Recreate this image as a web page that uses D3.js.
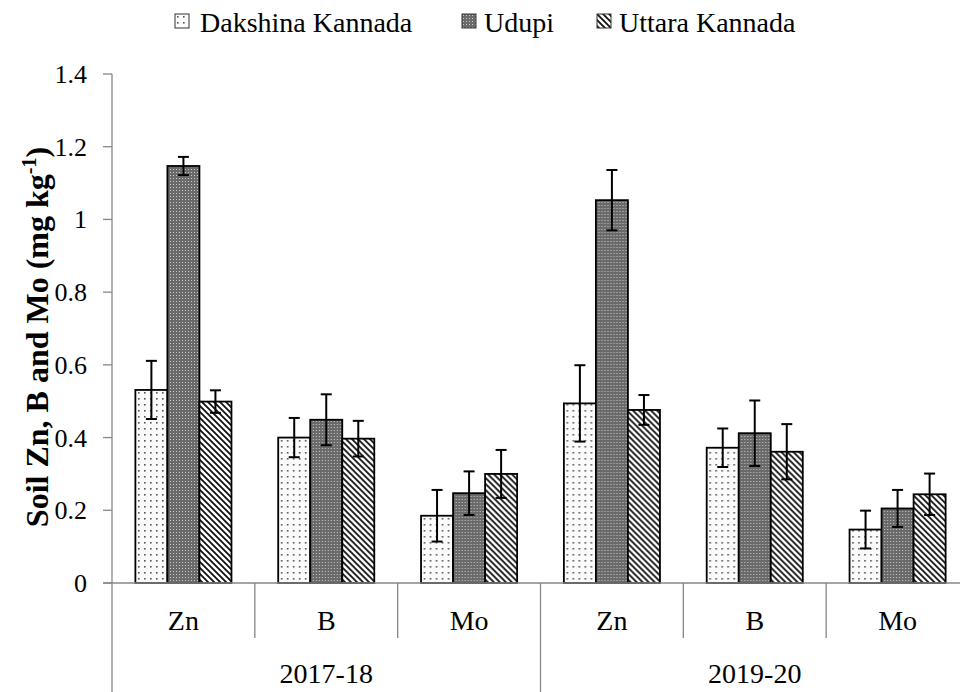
<!DOCTYPE html>
<html>
<head>
<meta charset="utf-8">
<script src="https://cdnjs.cloudflare.com/ajax/libs/d3/7.8.5/d3.min.js"></script>
<style>
  body { margin: 0; background: #fff; }
  svg { display: block; }
</style>
</head>
<body>
<svg id="chart" width="960" height="692"></svg>
<script>
// values
const years = ['2017-18', '2019-20']
const nutrients = ['Zn', 'B', 'Mo']
const districts = ['Dakshina Kannada', 'Udupi', 'Uttara Kannada']

const dakshina = [0.531, 0.400, 0.185, 0.494, 0.372, 0.147]
const dakshinaErr = [0.080, 0.054, 0.071, 0.105, 0.053, 0.052]
const udupi = [1.147, 0.449, 0.247, 1.053, 0.412, 0.205]
const udupiErr = [0.025, 0.070, 0.060, 0.083, 0.090, 0.051]
const uttara = [0.499, 0.397, 0.300, 0.476, 0.361, 0.244]
const uttaraErr = [0.031, 0.049, 0.066, 0.041, 0.076, 0.057]

const yTicks = [0, 0.2, 0.4, 0.6, 0.8, 1, 1.2, 1.4]

const series = [
    { name: districts[0], values: dakshina, errs: dakshinaErr, fill: 'url(#pat-dots)' },
    { name: districts[1], values: udupi, errs: udupiErr, fill: 'url(#pat-check)' },
    { name: districts[2], values: uttara, errs: uttaraErr, fill: 'url(#pat-diag)' }
]

// one slot per year x nutrient
let slots = []
years.forEach(yr => nutrients.forEach(n => slots.push(yr + '|' + n)))

const svg = d3.select('#chart')
const axisColor = '#878787'
const serif = '"Liberation Serif", "Times New Roman", "DejaVu Serif", serif'

const plotLeft = 112, plotRight = 969, plotTop = 74, plotBottom = 583

const x0 = d3.scaleBand().domain(slots).range([plotLeft, plotRight]).padding(0)
const x1 = d3.scaleBand().domain(districts).range([0, x0.bandwidth()])
    .paddingInner(0).paddingOuter(0.73)
const y = d3.scaleLinear().domain([0, 1.4]).range([plotBottom, plotTop])

// patterns
const defs = svg.append('defs')

let dots = defs.append('pattern')
    .attr('id', 'pat-dots')
    .attr('patternUnits', 'userSpaceOnUse')
    .attr('width', 6).attr('height', 6)
dots.append('rect').attr('width', 6).attr('height', 6).attr('fill', '#fbfbfb')
dots.append('rect').attr('x', 2).attr('y', 2).attr('width', 1.6).attr('height', 1.6).attr('fill', '#555')

let check = defs.append('pattern')
    .attr('id', 'pat-check')
    .attr('patternUnits', 'userSpaceOnUse')
    .attr('width', 3).attr('height', 3)
check.append('rect').attr('width', 3).attr('height', 3).attr('fill', '#6a6a6a')
check.append('rect').attr('x', 1).attr('y', 1).attr('width', 1).attr('height', 1).attr('fill', '#c8c8c8')

let diag = defs.append('pattern')
    .attr('id', 'pat-diag')
    .attr('patternUnits', 'userSpaceOnUse')
    .attr('width', 6).attr('height', 6)
diag.append('rect').attr('width', 6).attr('height', 6).attr('fill', '#fff')
diag.append('path')
    .attr('d', 'M-1,-1 L7,7 M-1,5 L1,7 M5,-1 L7,1')
    .attr('stroke', '#111')
    .attr('stroke-width', 1.8)

// y axis
const yAxis = svg.append('g')
yAxis.append('line')
    .attr('x1', plotLeft).attr('x2', plotLeft)
    .attr('y1', plotTop).attr('y2', plotBottom)
    .attr('stroke', axisColor).attr('stroke-width', 1.3)

yAxis.selectAll('.ytick')
    .data(yTicks)
    .enter()
    .append('line')
    .attr('class', 'ytick')
    .attr('x1', plotLeft - 9).attr('x2', plotLeft)
    .attr('y1', d => y(d)).attr('y2', d => y(d))
    .attr('stroke', axisColor).attr('stroke-width', 1.3)

yAxis.selectAll('.ylabel')
    .data(yTicks)
    .enter()
    .append('text')
    .attr('class', 'ylabel')
    .attr('x', 87)
    .attr('y', d => y(d) + 9)
    .attr('text-anchor', 'end')
    .attr('font-family', serif)
    .attr('font-size', 26)
    .text(d => String(+d.toFixed(1)))

// y title
let title = svg.append('text')
    .attr('transform', 'translate(48,337) rotate(-90)')
    .attr('text-anchor', 'middle')
    .attr('font-family', serif)
    .attr('font-size', 32)
    .attr('font-weight', 'bold')
title.append('tspan').text('Soil Zn, B and Mo (mg kg')
title.append('tspan').attr('dy', -12).attr('font-size', 20).text('-1')
title.append('tspan').attr('dy', 12).text(')')

// bars
const groups = svg.selectAll('.slot')
    .data(slots)
    .enter()
    .append('g')
    .attr('class', 'slot')
    .attr('transform', d => 'translate(' + x0(d) + ',0)')

series.forEach((s, si) => {
    groups.append('rect')
        .attr('x', x1(s.name))
        .attr('width', x1.bandwidth())
        .attr('y', (d, i) => y(s.values[i]))
        .attr('height', (d, i) => plotBottom - y(s.values[i]))
        .attr('fill', s.fill)
        .attr('stroke', '#000')
        .attr('stroke-width', 1.8)

    // error bars
    let cx = x1(s.name) + x1.bandwidth() / 2
    groups.append('line')
        .attr('x1', cx).attr('x2', cx)
        .attr('y1', (d, i) => y(s.values[i] + s.errs[i]))
        .attr('y2', (d, i) => y(s.values[i] - s.errs[i]))
        .attr('stroke', '#000').attr('stroke-width', 2)
    ;[1, -1].forEach(sign => {
        groups.append('line')
            .attr('x1', cx - 5.5).attr('x2', cx + 5.5)
            .attr('y1', (d, i) => y(s.values[i] + sign * s.errs[i]))
            .attr('y2', (d, i) => y(s.values[i] + sign * s.errs[i]))
            .attr('stroke', '#000').attr('stroke-width', 2)
    })
})

// x axis (two level categories)
const xAxis = svg.append('g')
xAxis.append('line')
    .attr('x1', plotLeft - 9).attr('x2', plotRight)
    .attr('y1', plotBottom).attr('y2', plotBottom)
    .attr('stroke', axisColor).attr('stroke-width', 1.3)

let bounds = slots.map(d => x0(d)).concat([plotRight])
xAxis.selectAll('.xsep')
    .data(bounds)
    .enter()
    .append('line')
    .attr('class', 'xsep')
    .attr('x1', d => d).attr('x2', d => d)
    .attr('y1', plotBottom)
    .attr('y2', (d, i) => (i % nutrients.length == 0) ? 692 : 638)
    .attr('stroke', axisColor).attr('stroke-width', 1.3)

xAxis.selectAll('.xlabel')
    .data(slots)
    .enter()
    .append('text')
    .attr('class', 'xlabel')
    .attr('x', d => x0(d) + x0.bandwidth() / 2)
    .attr('y', 630)
    .attr('text-anchor', 'middle')
    .attr('font-family', serif)
    .attr('font-size', 28)
    .text(d => d.split('|')[1])

xAxis.selectAll('.yearlabel')
    .data(years)
    .enter()
    .append('text')
    .attr('class', 'yearlabel')
    .attr('x', d => (x0(d + '|' + nutrients[0]) + x0(d + '|' + nutrients[2]) + x0.bandwidth()) / 2)
    .attr('y', 683)
    .attr('text-anchor', 'middle')
    .attr('font-family', serif)
    .attr('font-size', 28)
    .text(d => d)

// legend
const legendX = [175, 462, 597]
const legend = svg.selectAll('.legend')
    .data(series)
    .enter()
    .append('g')
    .attr('class', 'legend')
    .attr('transform', (d, i) => 'translate(' + legendX[i] + ',14)')

legend.append('rect')
    .attr('width', 14).attr('height', 14)
    .attr('fill', d => d.fill)
    .attr('stroke', '#333').attr('stroke-width', 1)

legend.append('text')
    .attr('x', (d, i) => i == 0 ? 25 : 22)
    .attr('y', 18)
    .attr('font-family', serif)
    .attr('font-size', 28)
    .text(d => d.name)
</script>
</body>
</html>
